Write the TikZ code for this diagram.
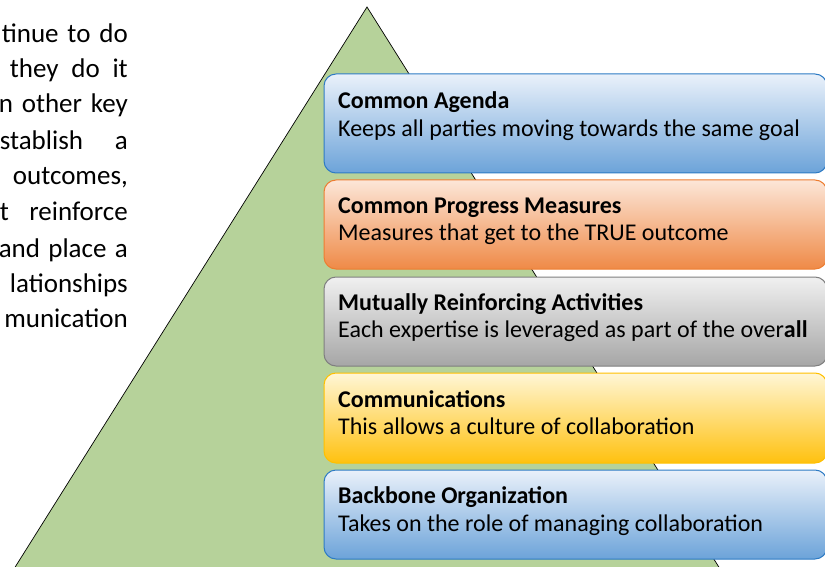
\documentclass[tikz,border=0pt]{standalone}
\usepackage{fontspec}
\setmainfont{Carlito}
\definecolor{trigreen}{HTML}{B6D29A}
\definecolor{blueT}{HTML}{EAF1FA}
\definecolor{blueB}{HTML}{6CA3D9}
\definecolor{blueD}{HTML}{2E7BC4}
\definecolor{orT}{HTML}{FCE6D8}
\definecolor{orB}{HTML}{EF8A47}
\definecolor{orD}{HTML}{ED7D31}
\definecolor{grT}{HTML}{F0F0F0}
\definecolor{grB}{HTML}{A6A6A6}
\definecolor{grD}{HTML}{7F7F7F}
\definecolor{yeT}{HTML}{FFF6D6}
\definecolor{yeB}{HTML}{FFC10F}
\definecolor{yeD}{HTML}{FFC000}
\begin{document}
\begin{tikzpicture}[x=1pt,y=-1pt,
  boxstyle/.style={rounded corners=12pt, line width=1pt},
  ttl/.style={anchor=base west, inner sep=0pt, font=\fontsize{24}{28}\selectfont\bfseries},
  bdy/.style={anchor=base west, inner sep=0pt, font=\fontsize{24}{28}\selectfont},
  lft/.style={anchor=base east, inner sep=0pt, font=\fontsize{27}{35.5}\selectfont}]
\useasboundingbox (0,0) rectangle (825,567);
\begin{scope}
\clip (0,0) rectangle (825,567);
\fill[white] (0,0) rectangle (825,567);
% left paragraph fragments (justified lines)
\node[lft] (l1) at (128,43) {\hbox to 126pt{tinue\hfill to\hfill do}};
\node[lft] (l2) at (128,78) {\hbox to 118pt{they\hfill do\hfill it}};
\node[lft] (l3) at (128,113) {\hbox to 129pt{n\hfill other\hfill key}};
\node[lft] (l4) at (128,150) {\hbox to 128pt{stablish\hfill a}};
\node[lft] (l5) at (128,185) {outcomes,};
\node[lft] (l6) at (128,220) {\hbox to 128pt{t\hfill reinforce}};
\node[lft] (l7) at (128,257) {\hbox to 129pt{and\hfill place\hfill a}};
\node[lft] (l8) at (128,292) {lationships};
\node[lft] (l9) at (128,327) {munication};
% pyramid
\draw[fill=trigreen, line width=0.7pt] (367,7) -- (727,580) -- (7,580) -- cycle;
% boxes
\path[boxstyle, top color=blueT, bottom color=blueB, draw=blueD] (324,74) rectangle (827,173);
\path[boxstyle, top color=orT, bottom color=orB, draw=orD] (324,180) rectangle (827,269);
\path[boxstyle, top color=grT, bottom color=grB, draw=grD] (324,277) rectangle (827,366);
\path[boxstyle, top color=yeT, bottom color=yeB, draw=yeD] (324,373) rectangle (827,463);
\path[boxstyle, top color=blueT, bottom color=blueB, draw=blueD] (324,470) rectangle (827,559);
% texts
\node[ttl] (t1) at (338,109) {Common Agenda};
\node[bdy] (b1) at (338,137) {Keeps all parties moving towards the same goal};
\node[ttl] (t2) at (338,213) {Common Progress Measures};
\node[bdy] (b2) at (338,240.5) {Measures that get to the TRUE outcome};
\node[ttl] (t3) at (338,310) {Mutually Reinforcing Activities};
\node[bdy] (b3) at (338,337.5) {Each expertise is leveraged as part of the over\textbf{all}};
\node[ttl] (t4) at (338,407) {Communications};
\node[bdy] (b4) at (338,434.5) {This allows a culture of collaboration};
\node[ttl] (t5) at (338,503) {Backbone Organization};
\node[bdy] (b5) at (338,531) {Takes on the role of managing collaboration};
\end{scope}
\end{tikzpicture}
\end{document}
